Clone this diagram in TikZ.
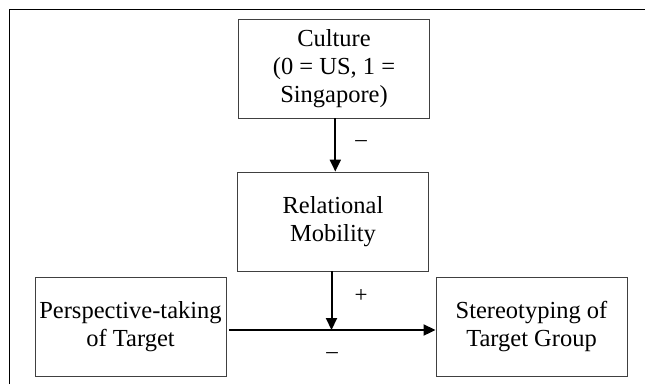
\documentclass[tikz,border=0pt]{standalone}
\usepackage{fontspec}
\setmainfont{Liberation Serif}
\usetikzlibrary{arrows.meta}
\begin{document}
\begin{tikzpicture}[x=1pt,y=-1pt,
  box/.style={draw=black!75,line width=0.9pt,minimum width=191pt,minimum height=99pt,align=center,font=\fontsize{24.5}{28}\selectfont,inner sep=0pt},
  conn/.style={line width=2pt,-{Triangle[length=12pt,width=11pt]}},
  sign/.style={font=\fontsize{23}{26}\selectfont,inner sep=0pt}]
\useasboundingbox (0,0) rectangle (645,384);
\draw[line width=1pt] (9.5,384) -- (9.5,9.5) -- (645,9.5);
\node[box] (cult) at (334,68.5) {Culture\\(0 = US, 1 =\\Singapore)};
\node[box] (rel) at (333,221.5) {Relational\\Mobility};
\node[box] (persp) at (130.5,327) {Perspective-taking\\of Target};
\node[box] (stereo) at (531.5,327) {Stereotyping of\\Target Group};
\coordinate (mid) at (331.5,330);
\draw[conn] (cult.south -| 335.3,0) -- (rel.north -| 335.3,0);
\node[sign] (m1) at (361,144) {\textendash};
\draw[line width=2pt] (229,330) -- (mid);
\draw[conn] (mid) -- (stereo.west |- mid);
\draw[conn] (rel.south -| mid) -- (mid);
\node[sign] (p1) at (361,296) {+};
\node[sign] (m2) at (332,356) {\textendash};
\end{tikzpicture}
\end{document}
